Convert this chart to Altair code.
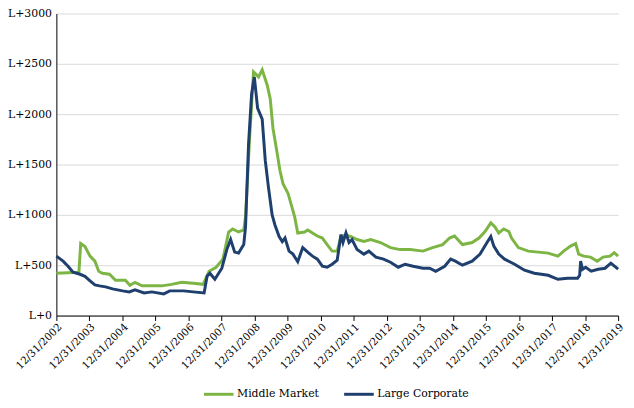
import altair as alt
import pandas as pd

mm_dates = ["2002-12-31","2003-05-09","2003-09-06","2003-09-26","2003-11-12","2004-01-07","2004-03-01","2004-04-12",
 "2004-05-23","2004-08-09","2004-10-15","2005-02-01","2005-03-23","2005-05-18","2005-08-04","2005-11-20","2006-03-10",
 "2006-06-27","2006-10-15","2007-02-20","2007-06-10","2007-08-15","2007-11-01","2008-01-15","2008-03-18","2008-05-01",
 "2008-07-06","2008-09-01","2008-09-21","2008-11-01","2008-12-18","2009-02-12","2009-03-24","2009-05-18","2009-06-21",
 "2009-07-21","2009-09-06","2009-10-06","2009-11-09","2010-01-03","2010-02-15","2010-03-18","2010-04-21","2010-07-06",
 "2010-08-09","2010-10-01","2010-11-24","2011-01-18","2011-03-12","2011-05-06","2011-07-01","2011-08-12","2011-10-06",
 "2011-12-01","2012-02-06","2012-04-21","2012-07-06","2012-10-21","2013-02-09","2013-05-27","2013-09-15","2014-02-03",
 "2014-05-21","2014-09-09","2014-11-24","2015-01-18","2015-04-15","2015-08-01","2015-10-15","2015-12-21","2016-02-23",
 "2016-04-09","2016-05-21","2016-07-15","2016-09-09","2016-10-09","2016-12-23","2017-04-12","2017-08-01","2017-11-18",
 "2018-03-06","2018-05-09","2018-07-23","2018-09-18","2018-10-21","2018-12-15","2019-03-01","2019-05-15","2019-07-18",
 "2019-10-03","2019-11-18","2019-12-31"]
mm_values = [420,425,430,715,686,590,540,440,420,410,350,350,300,330,295,295,295,310,330,320,310,440,480,560,830,860,
 830,850,980,1700,2420,2370,2440,2290,2150,1860,1610,1440,1310,1215,1080,980,820,830,850,820,790,770,705,640,640,785,
 800,785,755,735,755,725,675,655,655,640,675,705,770,790,705,725,770,835,920,880,820,860,835,770,675,640,630,620,590,
 640,690,715,610,590,580,540,580,590,625,590]

lc_dates = ["2002-12-31","2003-03-15","2003-05-09","2003-07-03","2003-09-18","2003-11-12","2004-01-07","2004-03-01",
 "2004-04-21","2004-06-27","2004-09-12","2005-01-01","2005-03-15","2005-05-18","2005-08-27","2005-11-20","2006-04-01",
 "2006-06-06","2006-11-06","2007-02-20","2007-06-21","2007-07-24","2007-08-24","2007-10-18","2008-01-03","2008-02-27",
 "2008-04-09","2008-05-24","2008-07-06","2008-09-01","2008-09-21","2008-10-24","2008-11-27","2008-12-27","2009-02-01",
 "2009-03-24","2009-04-27","2009-06-01","2009-07-12","2009-08-12","2009-09-27","2009-11-01","2009-12-01","2010-01-15",
 "2010-02-27","2010-04-21","2010-06-15","2010-08-09","2010-10-01","2010-11-24","2011-01-18","2011-03-12","2011-05-06",
 "2011-07-01","2011-08-12","2011-09-03","2011-10-06","2011-11-09","2011-12-12","2012-02-06","2012-04-21","2012-06-15",
 "2012-09-01","2012-11-24","2013-02-09","2013-05-06","2013-07-21","2013-10-18","2014-02-03","2014-04-18","2014-06-24",
 "2014-10-01","2014-12-06","2015-01-27","2015-04-15","2015-08-01","2015-10-27","2016-01-12","2016-02-23","2016-03-27",
 "2016-05-21","2016-07-24","2016-11-12","2017-03-01","2017-06-18","2017-11-18","2018-03-06","2018-06-21","2018-10-09",
 "2018-11-01","2018-11-12","2018-12-03","2019-01-06","2019-03-09","2019-05-24","2019-08-09","2019-10-12","2019-12-31"]
lc_values = [590,540,490,430,410,390,345,305,295,285,265,245,235,255,225,235,215,245,245,235,225,390,420,360,470,655,
 755,630,620,705,880,1700,2200,2370,2060,1950,1540,1275,1000,900,785,735,770,640,610,535,675,630,590,560,490,480,510,
 550,805,725,820,725,755,655,610,640,580,560,530,480,510,490,470,470,440,490,560,540,500,540,610,725,785,690,610,560,
 510,450,420,400,360,370,370,400,540,460,480,440,460,470,520,460]

series_names = ["Middle Market", "Large Corporate"]
series_colors = ["#7DB544", "#1F3F6E"]
years = list(range(2002, 2020))
y_ticks = [0, 500, 1000, 1500, 2000, 2500, 3000]

df = pd.concat([
    pd.DataFrame({"date": mm_dates, "value": mm_values, "series": series_names[0]}),
    pd.DataFrame({"date": lc_dates, "value": lc_values, "series": series_names[1]}),
])

font = "DejaVu Serif"

chart = alt.Chart(df).mark_line(strokeWidth=3).encode(
    x=alt.X("date:T", title=None,
            scale=alt.Scale(type="utc",
                            domain=[alt.DateTime(year=2002, month=12, date=31, utc=True),
                                    alt.DateTime(year=2019, month=12, date=31, utc=True)]),
            axis=alt.Axis(values=[alt.DateTime(year=y, month=12, date=31, utc=True) for y in years],
                          format="%m/%d/%Y", labelAngle=-45, labelAlign="right", labelBaseline="top",
                          labelPadding=1, grid=False, ticks=True, tickSize=5, tickColor="black",
                          domainColor="black", labelFont=font, labelFontSize=10.5, labelColor="black",
                          labelOverlap=False)),
    y=alt.Y("value:Q", title=None,
            scale=alt.Scale(domain=[0, 3000], nice=False),
            axis=alt.Axis(values=y_ticks, labelExpr="'L+' + datum.value", ticks=False,
                          labelPadding=5, grid=True, gridColor="#D9D9D9", domainColor="black",
                          labelFont=font, labelFontSize=11, labelColor="black")),
    color=alt.Color("series:N",
                    scale=alt.Scale(domain=series_names, range=series_colors),
                    sort=series_names,
                    legend=alt.Legend(title=None, orient="none", direction="horizontal",
                                      legendX=148, legendY=369, symbolType="stroke",
                                      symbolSize=900, symbolStrokeWidth=3, labelFont=font,
                                      labelFontSize=11, labelColor="black", columnPadding=18,
                                      labelOffset=2)),
).properties(
    width=569, height=306,
    autosize=alt.AutoSizeParams(type="none"),
    padding={"left": 49, "top": 3, "right": 8, "bottom": 83},
).configure_view(stroke=None)

chart.save("out.html", embed_options={"renderer": "svg", "actions": False})
